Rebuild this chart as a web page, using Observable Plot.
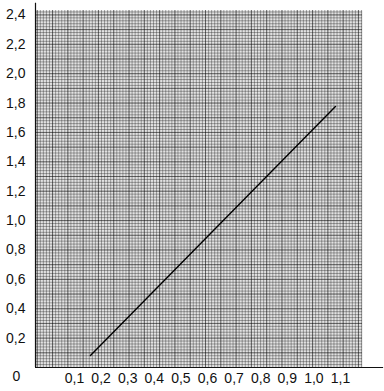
<!DOCTYPE html>
<html><head><meta charset="utf-8">
<script src="https://cdn.jsdelivr.net/npm/d3@7"></script>
<script src="https://cdn.jsdelivr.net/npm/@observablehq/plot@0.6"></script>
<style>
html,body{margin:0;padding:0;background:#fff;}
svg{display:block;}
</style>
</head><body>
<div id="chart"></div>
<script>
// Tick labels
const xTicks = [0.1, 0.2, 0.3, 0.4, 0.5, 0.6, 0.7, 0.8, 0.9, 1.0, 1.1];
const yTicks = [0.2, 0.4, 0.6, 0.8, 1.0, 1.2, 1.4, 1.6, 1.8, 2.0, 2.2, 2.4];
const originLabel = ["0"];
// Line series (start and end points)
const lineX = [0.16, 1.081];
const lineY = [0.082, 1.777];

const xDomain = [-0.0466, 1.1827];
const yDomain = [0, 2.43];
const fmt = d => d3.format(".1f")(d).replace(".", ",");

const fineX = d3.range(-0.04, 1.183, 0.0115);
const fineY = d3.range(0, 2.43, 0.02);
const majX = d3.range(-0.04, 1.183, 0.0575);
const majY = d3.range(0, 2.43, 0.1);

const lineData = lineX.map((x, i) => ({x, y: lineY[i]}));

const chart = Plot.plot({
  width: 384,
  height: 391,
  marginLeft: 35,
  marginRight: 22,
  marginTop: 10,
  marginBottom: 24,
  style: {fontFamily: "Liberation Sans, Arial, sans-serif", fontSize: "14px", color: "#111", background: "#fff"},
  x: {domain: xDomain, range: [35, 362], label: null},
  y: {domain: yDomain, label: null},
  marks: [
    Plot.frame({fill: "#e2e2e2", stroke: null}),
    Plot.ruleX(fineX, {stroke: "#222", strokeOpacity: 0.38, strokeWidth: 1}),
    Plot.ruleY(fineY, {stroke: "#222", strokeOpacity: 0.38, strokeWidth: 1}),
    Plot.ruleX(majX, {stroke: "#000", strokeOpacity: 0.35, strokeWidth: 1}),
    Plot.ruleY(majY, {stroke: "#000", strokeOpacity: 0.35, strokeWidth: 1}),
    Plot.ruleX([xDomain[0]], {y1: 0, y2: 2.48, stroke: "#111", strokeWidth: 1.2}),
    Plot.ruleY([0], {x1: xDomain[0], x2: 1.262, stroke: "#111", strokeWidth: 1.2}),
    Plot.line(lineData, {x: "x", y: "y", stroke: "#000", strokeWidth: 1.4}),
    Plot.axisY(yTicks, {tickSize: 0, tickPadding: 10, tickFormat: fmt, fontSize: 14, fill: "#111", label: null}),
    Plot.axisX(xTicks, {tickSize: 0, tickPadding: 6, tickFormat: fmt, fontSize: 14, fill: "#111", label: null}),
    Plot.text(originLabel, {frameAnchor: "bottom-left", dx: -23, dy: 13, fontSize: 14, fill: "#111"})
  ]
});
document.getElementById("chart").appendChild(chart);
</script>
</body></html>
